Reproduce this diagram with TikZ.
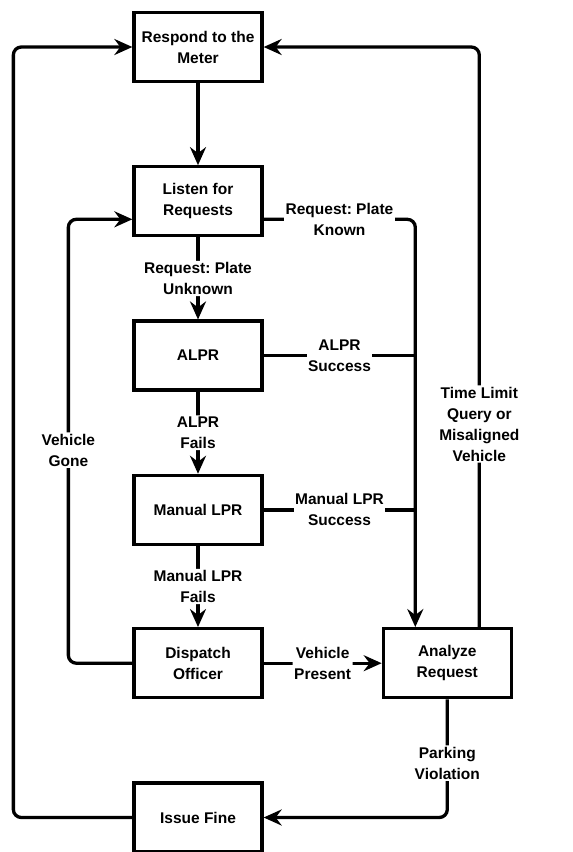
\documentclass[tikz,border=0pt]{standalone}
\usepackage{fontspec}
\setmainfont{Liberation Sans}
\frenchspacing
\usetikzlibrary{arrows.meta,positioning,calc}

\begin{document}
\begin{tikzpicture}[x=1pt, y=-1pt,
    stepbox/.style={rectangle, draw, line width=3.3pt, minimum width=128pt, minimum height=69pt, align=center, font=\bfseries\fontsize{15.5}{21}\selectfont},
    lbl/.style={fill=white, align=center, inner sep=1.5pt, font=\bfseries\fontsize{15.5}{21}\selectfont},
    flow/.style={line width=3.3pt, rounded corners=8pt, -{Stealth[length=18pt,width=16pt,inset=6pt]}},
    link/.style={line width=3.3pt}
]
    \useasboundingbox (0,0) rectangle (573,852);
    \node[stepbox] (respond) at (198,47) {Respond to the\\Meter};
    \node[stepbox, below=82pt of respond] (listen) {Listen for\\Requests};
    \node[stepbox, below=82pt of listen] (alpr) {ALPR};
    \node[stepbox, below=82pt of alpr] (manual) {Manual LPR};
    \node[stepbox, below=81pt of manual] (dispatch) {Dispatch\\Officer};
    \node[stepbox, below=82pt of dispatch] (fine) {Issue Fine};
    \node[stepbox, right=118pt of dispatch] (analyze) {Analyze\\Request};
    \coordinate (merge) at ([xshift=-32pt]analyze.north);
    \coordinate (back) at ([xshift=32pt]analyze.north);

    \draw[flow] (respond) -- (listen);
    \draw[flow] (listen) -- node[lbl] {Request: Plate\\Unknown} (alpr);
    \draw[flow] (alpr) -- node[lbl] {ALPR\\Fails} (manual);
    \draw[flow] (manual) -- node[lbl] {Manual LPR\\Fails} (dispatch);
    \draw[flow] (dispatch) -- node[lbl] {Vehicle\\Present} (analyze);
    \draw[flow] ([yshift=-18pt]listen.east) -| node[lbl, pos=0.25] {Request: Plate\\Known} (merge);
    \draw[link] (alpr.east) -- node[lbl] {ALPR\\Success} (alpr.east -| merge);
    \draw[link] (manual.east) -- node[lbl] {Manual LPR\\Success} (manual.east -| merge);
    \draw[flow] (back) |- node[lbl, pos=0.175] {Time Limit\\Query or\\Misaligned\\Vehicle} (respond.east);
    \draw[flow] (analyze.south) |- node[lbl, pos=0.27] {Parking\\Violation} (fine.east);
    \draw[flow] (dispatch.west) -| node[lbl, pos=0.74] {Vehicle\\Gone} ([xshift=-64pt, yshift=-18pt]listen.west) -- ([yshift=-18pt]listen.west);
    \draw[flow] (fine.west) -| ([xshift=-119pt]respond.west) -- (respond.west);
\end{tikzpicture}
\end{document}
